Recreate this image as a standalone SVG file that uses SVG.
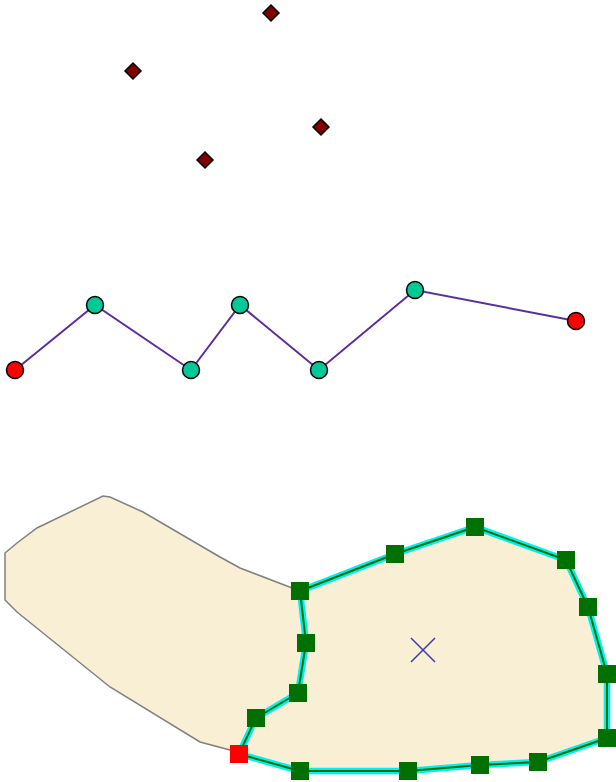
<svg xmlns="http://www.w3.org/2000/svg" width="616" height="782" viewBox="0 0 616 782">
<style>
.pt{fill:#800000;stroke:#000;stroke-width:1.5}
.vx{stroke:#000;stroke-width:1.5}
.teal{fill:#00C896}
.red{fill:#FF0000}
.sq{fill:#007000}
.sqr{fill:#FF0000}
.line{fill:none;stroke:#5B2E9E;stroke-width:2}
</style>
<defs>
<polygon id="dia" points="0,-8 8,0 0,8 -8,0"/>
<rect id="sqv" x="-9" y="-9" width="18" height="18"/>
</defs>
<rect width="616" height="782" fill="#fff"/>
<g id="points">
<use href="#dia" class="pt" x="271" y="13"/>
<use href="#dia" class="pt" x="133" y="71"/>
<use href="#dia" class="pt" x="321" y="127"/>
<use href="#dia" class="pt" x="205" y="160"/>
</g>
<g id="polyline">
<polyline class="line" points="15,370 95,305 191,370 240,305 319,370 415,290 576,321"/>
<circle class="vx red" cx="15" cy="370" r="8.5"/>
<circle class="vx teal" cx="95" cy="305" r="8.5"/>
<circle class="vx teal" cx="191" cy="370" r="8.5"/>
<circle class="vx teal" cx="240" cy="305" r="8.5"/>
<circle class="vx teal" cx="319" cy="370" r="8.5"/>
<circle class="vx teal" cx="415" cy="290" r="8.5"/>
<circle class="vx red" cx="576" cy="321" r="8.5"/>
</g>
<g id="left-polygon">
<polygon fill="#F8EFD5" stroke="none" points="5,553 17,543 37,528 103,496 110,497 143,512 220,557 240,568 300,591 306,643 298,693 256,718 239,754 230,750 200,742 110,687 43,633 17,612 5,600"/>
<polyline fill="none" stroke="#808080" stroke-width="1.5" points="300,591 240,568 220,557 143,512 110,497 103,496 37,528 17,543 5,553 5,600 17,612 43,633 110,687 200,742 230,750 239,754"/>
</g>
<g id="right-polygon">
<polygon fill="#F8EFD5" stroke="#00F0F0" stroke-width="6.5" stroke-linejoin="round" points="300,591 395,554 475,527 566,560 588,607 607,674 607,738 538,762 480,765 408,771 300,771 239,754 256,718 298,693 306,643"/>
<polygon fill="none" stroke="#007000" stroke-width="2" stroke-linejoin="round" points="300,591 395,554 475,527 566,560 588,607 607,674 607,738 538,762 480,765 408,771 300,771 239,754 256,718 298,693 306,643"/>
<path d="M411,638 L435,662 M435,638 L411,662" stroke="#3A3AA8" stroke-width="1.5" fill="none"/>
<use href="#sqv" class="sq" x="300" y="591"/>
<use href="#sqv" class="sq" x="395" y="554"/>
<use href="#sqv" class="sq" x="475" y="527"/>
<use href="#sqv" class="sq" x="566" y="560"/>
<use href="#sqv" class="sq" x="588" y="607"/>
<use href="#sqv" class="sq" x="607" y="674"/>
<use href="#sqv" class="sq" x="607" y="738"/>
<use href="#sqv" class="sq" x="538" y="762"/>
<use href="#sqv" class="sq" x="480" y="765"/>
<use href="#sqv" class="sq" x="408" y="771"/>
<use href="#sqv" class="sq" x="300" y="771"/>
<use href="#sqv" class="sq" x="256" y="718"/>
<use href="#sqv" class="sq" x="298" y="693"/>
<use href="#sqv" class="sq" x="306" y="643"/>
<use href="#sqv" class="sqr" x="239" y="754"/>
</g>
</svg>
